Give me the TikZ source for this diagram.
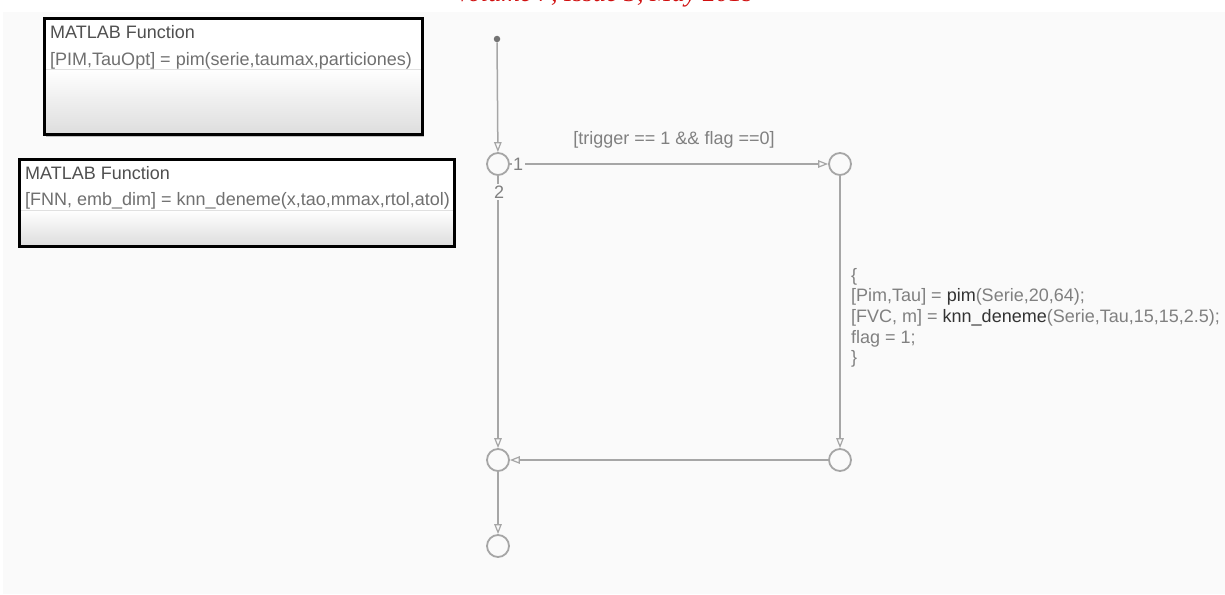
\documentclass[tikz,border=0pt]{standalone}
\usepackage{fontspec}
\setmainfont{Liberation Sans}
\newfontfamily\headfont{Liberation Serif}
\usetikzlibrary{arrows.meta}

\definecolor{canvas}{HTML}{FAFAFA}
\definecolor{wire}{HTML}{A6A6A6}
\definecolor{labelgray}{HTML}{808080}
\definecolor{titlegray}{HTML}{505050}
\definecolor{codegray}{HTML}{707070}
\definecolor{fncall}{HTML}{333333}
\definecolor{headred}{HTML}{D01010}

\tikzset{
  wirestyle/.style={draw=wire, line width=1.5,
    -{Triangle[open, length=10, width=7.5, line width=1.2]}},
  junction/.style={circle, draw=wire, line width=1.8, minimum size=22,
    inner sep=0, fill=canvas},
  fnframe/.style={draw=black, line width=2.6, inner sep=0, anchor=north west},
  fntext/.style={anchor=base west, inner sep=0, font=\fontsize{18}{21}\selectfont},
  chartlabel/.style={text=labelgray, inner sep=0, font=\fontsize{18}{20.6}\selectfont},
  prio/.style={chartlabel, fill=canvas, inner sep=1.5},
}

\begin{document}
\begin{tikzpicture}[x=1pt, y=-1pt]
\useasboundingbox (0,0) rectangle (1225,594);
\fill[white] (0,0) rectangle (1225,594);
\fill[canvas] (3,12) rectangle (1225,594);

% running head of the page, cut at the top edge
\begin{scope}
  \clip (0,0) rectangle (1225,12);
  \node[anchor=base, inner sep=0, text=headred,
        font=\headfont\itshape\fontsize{26}{30}\selectfont] (head) at (605,2)
    {Volume 7, Issue 3, May 2019};
\end{scope}

% ---- MATLAB Function block: pim ----
\fill[black!25] (46,20) rectangle (424,137);
\fill[white] (43,17) rectangle (421,69);
\shade[top color=white, bottom color=black!13] (43,69) rectangle (421,133);
\draw[black!12, line width=0.8] (43,69) -- (421,69);
\node[fnframe, minimum width=378, minimum height=116] (pimblock) at (43,17) {};
\node[fntext, text=titlegray] (pimtitle) at (50,39) {MATLAB Function};
\node[fntext, text=codegray] (pimsig) at (50,65)
  {[PIM,TauOpt] = pim(serie,taumax,particiones)};

% ---- MATLAB Function block: knn_deneme ----
\fill[black!25] (21,161) rectangle (456,248);
\fill[white] (18,158) rectangle (453,210);
\shade[top color=white, bottom color=black!13] (18,210) rectangle (453,245);
\draw[black!12, line width=0.8] (18,210) -- (453,210);
\node[fnframe, minimum width=435, minimum height=87] (knnblock) at (18,158) {};
\node[fntext, text=titlegray] (knntitle) at (25,179) {MATLAB Function};
\node[fntext, text=codegray] (knnsig) at (25,205)
  {[FNN, emb\_dim] = knn\_deneme(x,tao,mmax,rtol,atol)};

% ---- Stateflow flow chart ----
\node[circle, fill=black!55, minimum size=6.5, inner sep=0] (start) at (497,39) {};
\node[junction] (ja) at (498,164) {};
\node[junction] (jb) at (840,164) {};
\node[junction] (jc) at (840,460) {};
\node[junction] (jd) at (498,460) {};
\node[junction] (je) at (498,546) {};

\draw[wirestyle] (start) -- (ja);
\draw[wirestyle] (ja) -- (jb);
\draw[wirestyle] (jb) -- (jc);
\draw[wirestyle] (jc) -- (jd);
\draw[wirestyle] (ja) -- (jd);
\draw[wirestyle] (jd) -- (je);

\node[chartlabel] (cond) at (674,140) {[trigger == 1 \&\& flag ==0]};
\node[prio] (prio1) at (518,164) {1};
\node[prio] (prio2) at (499,192) {2};

\node[chartlabel, anchor=north west, align=left] (action) at (851,268)
  {\{\\
   {}[Pim,Tau] = \textcolor{fncall}{pim}(Serie,20,64);\\
   {}[FVC, m] = \textcolor{fncall}{knn\_deneme}(Serie,Tau,15,15,2.5);\\
   flag = 1;\\
   \}};
\end{tikzpicture}
\end{document}
